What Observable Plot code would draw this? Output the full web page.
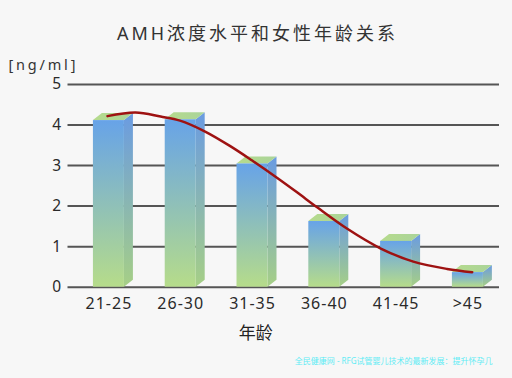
<!DOCTYPE html>
<html><head><meta charset="utf-8">
<script src="https://cdn.jsdelivr.net/npm/d3@7"></script>
<script src="https://cdn.jsdelivr.net/npm/@observablehq/plot@0.6"></script>
<style>
html,body{margin:0;padding:0;background:#f7f7f7;}
#wrap{width:512px;height:378px;position:relative;overflow:hidden;background:#f7f7f7;font-family:"Noto Sans","Noto Sans CJK SC",sans-serif;}
#title{height:48px;box-sizing:border-box;padding-top:23px;padding-left:3px;text-align:center;font-size:18px;line-height:20px;letter-spacing:3px;color:#333;}
#chart svg{display:block;}
#chart svg [aria-label*="axis"] text{letter-spacing:1px;}
#chart svg [aria-label^="y-axis"] text{font-size:15.5px;}
</style></head><body>
<div id="wrap"><div id="title">AMH浓度水平和女性年龄关系</div><div id="chart"></div></div>
<script>
// categories and values
const categories = ["21-25", "26-30", "31-35", "36-40", "41-45", ">45"];
const amh = [4.11, 4.13, 3.04, 1.62, 1.13, 0.36];
const yTicks = [0, 1, 2, 3, 4, 5];
// trend curve (x in category positions, y in ng/ml)
const curveX = [-0.02, 0.37, 0.72, 0.99, 1.34, 1.69, 1.99, 2.34, 2.62, 2.90, 3.32, 3.78, 4.24, 4.71, 5.06];
const curveY = [4.22, 4.31, 4.21, 4.11, 3.84, 3.48, 3.13, 2.70, 2.34, 1.97, 1.44, 0.96, 0.63, 0.45, 0.37];
const unitLabel = ["[ng/ml]"];
const xLabel = ["年龄"];
const watermark = ["全民健康网 - RFG试管婴儿技术的最新发展：提升怀孕几"];

// 3D look (style constants)
const HALF = 0.216;  // half front-face width, category units
const DX = 0.125;    // depth offset, category units
const DY = 0.173;    // depth offset, value units

const bars = categories.map((c, i) => ({i, c, v: amh[i]}));
const sideData = bars.flatMap(b => [
  {i: b.i, x: b.i + HALF, y1: 0, y2: b.v},
  {i: b.i, x: b.i + HALF + DX, y1: DY, y2: b.v + DY}
]);
const topData = bars.flatMap(b => [
  {i: b.i, y: b.v, x1: b.i - HALF, x2: b.i + HALF},
  {i: b.i, y: b.v + DY, x1: b.i - HALF + DX, x2: b.i + HALF + DX}
]);
const curve = curveX.map((x, k) => ({x, y: curveY[k]}));

const svg = Plot.plot({
  width: 512,
  height: 330,
  marginTop: 36,
  marginBottom: 91.3,
  marginLeft: 67.5,
  marginRight: 13,
  style: {background: "transparent", fontFamily: '"Noto Sans","Noto Sans CJK SC",sans-serif', fontSize: "16px", color: "#2a2a2a", overflow: "visible"},
  x: {domain: [-0.57, 5.44], ticks: categories.map((_, i) => i), tickFormat: i => categories[i], tickSize: 0, tickPadding: 10, label: null},
  y: {domain: [0, 5], ticks: yTicks, tickFormat: d => String(d), tickSize: 0, tickPadding: 6, label: null},
  marks: [
    Plot.ruleY(yTicks, {stroke: "#555", strokeWidth: 2}),
    Plot.areaY(sideData, {x: "x", y1: "y1", y2: "y2", z: "i", fill: "url(#gSide)"}),
    Plot.areaX(topData, {y: "y", x1: "x1", x2: "x2", z: "i", fill: "url(#gTop)"}),
    Plot.rectY(bars, {x1: d => d.i - HALF, x2: d => d.i + HALF, y1: 0, y2: "v", fill: "url(#gFront)"}),
    Plot.line(curve, {x: "x", y: "y", curve: "catmull-rom", stroke: "#9e1212", strokeWidth: 2.5, strokeLinecap: "round"}),
    Plot.text(unitLabel, {frameAnchor: "top-left", textAnchor: "start", dx: -59.5, dy: -25, fontSize: 14.5, fill: "#333"}),
    Plot.text(xLabel, {frameAnchor: "bottom", dx: -28, dy: 52, fontSize: 17, fill: "#222"}),
    Plot.text(watermark, {frameAnchor: "bottom-right", textAnchor: "end", dx: -7, dy: 77, fontSize: 8, fill: "#5fecf5"})
  ]
});

d3.select(svg).insert("defs", ":first-child").html(`
  <linearGradient id="gFront" x1="0" y1="0" x2="0" y2="1">
    <stop offset="0" stop-color="#67a3e8"/>
    <stop offset="1" stop-color="#b6dc8a"/>
  </linearGradient>
  <linearGradient id="gSide" x1="0" y1="0" x2="0" y2="1">
    <stop offset="0" stop-color="#6a9be2"/>
    <stop offset="1" stop-color="#a6cf86"/>
  </linearGradient>
  <linearGradient id="gTop" x1="0" y1="0" x2="1" y2="0">
    <stop offset="0" stop-color="#b6db8c"/>
    <stop offset="1" stop-color="#aad49a"/>
  </linearGradient>`);
d3.select(svg).selectAll("text").filter(function() { return this.textContent === unitLabel[0]; }).style("letter-spacing", "2.8px");

document.getElementById("chart").appendChild(svg);
</script>
</body></html>
